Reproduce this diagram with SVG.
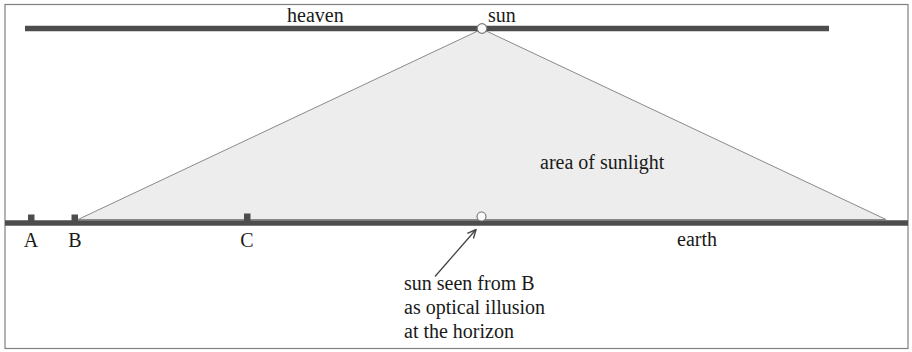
<svg xmlns="http://www.w3.org/2000/svg" width="912" height="352" viewBox="0 0 912 352">
<style>
text{font-family:"Liberation Serif","Times New Roman","DejaVu Serif",serif;font-size:20px;fill:#1a1a1a}
.bar{stroke:#4d4d4d;stroke-width:5.5}
.mark{fill:#4d4d4d}
.pt{fill:#fafafa;stroke:#7a7a7a;stroke-width:1.2}
</style>
<defs>
<marker id="ah" viewBox="0 0 10 10" refX="9.5" refY="5" markerWidth="10" markerHeight="10" orient="auto" markerUnits="userSpaceOnUse"><path d="M1,1 L9.5,5 L1,9" fill="none" stroke="#444" stroke-width="1.4" stroke-linejoin="miter"/></marker>
</defs>
<rect x="0" y="0" width="912" height="352" fill="#fff"/>
<rect x="5" y="4.5" width="903" height="344" fill="none" stroke="#808080" stroke-width="1.2"/>
<g id="sunlight">
<polygon points="482,29 78,219.5 886,219.5" fill="#ededed" stroke="#8a8a8a" stroke-width="1"/>
<text x="540" y="169">area of sunlight</text>
</g>
<g id="heaven">
<line class="bar" x1="25" y1="28.5" x2="829" y2="28.5"/>
<text x="287" y="22">heaven</text>
</g>
<g id="earth">
<line class="bar" x1="5" y1="223" x2="908" y2="223"/>
<text x="677" y="246">earth</text>
</g>
<g id="sun">
<circle class="pt" cx="482" cy="28.5" r="4.8"/>
<text x="488" y="22">sun</text>
</g>
<g id="A">
<rect class="mark" x="28" y="214.5" width="6.5" height="7"/>
<text x="31" y="246.5" text-anchor="middle">A</text>
</g>
<g id="B">
<rect class="mark" x="71.5" y="214.5" width="6.5" height="7"/>
<text x="75" y="246.5" text-anchor="middle">B</text>
</g>
<g id="C">
<rect class="mark" x="244" y="213.5" width="6.5" height="8"/>
<text x="247" y="246.5" text-anchor="middle">C</text>
</g>
<g id="illusion">
<circle class="pt" cx="481.5" cy="216.5" r="4.5"/>
<text x="404" y="290">sun seen from B</text>
<text x="404" y="314">as optical illusion</text>
<text x="404" y="338">at the horizon</text>
</g>
<g id="connectors">
<line x1="435" y1="276.5" x2="476" y2="229.5" stroke="#444" stroke-width="1.3" marker-end="url(#ah)"/>
</g>
</svg>
